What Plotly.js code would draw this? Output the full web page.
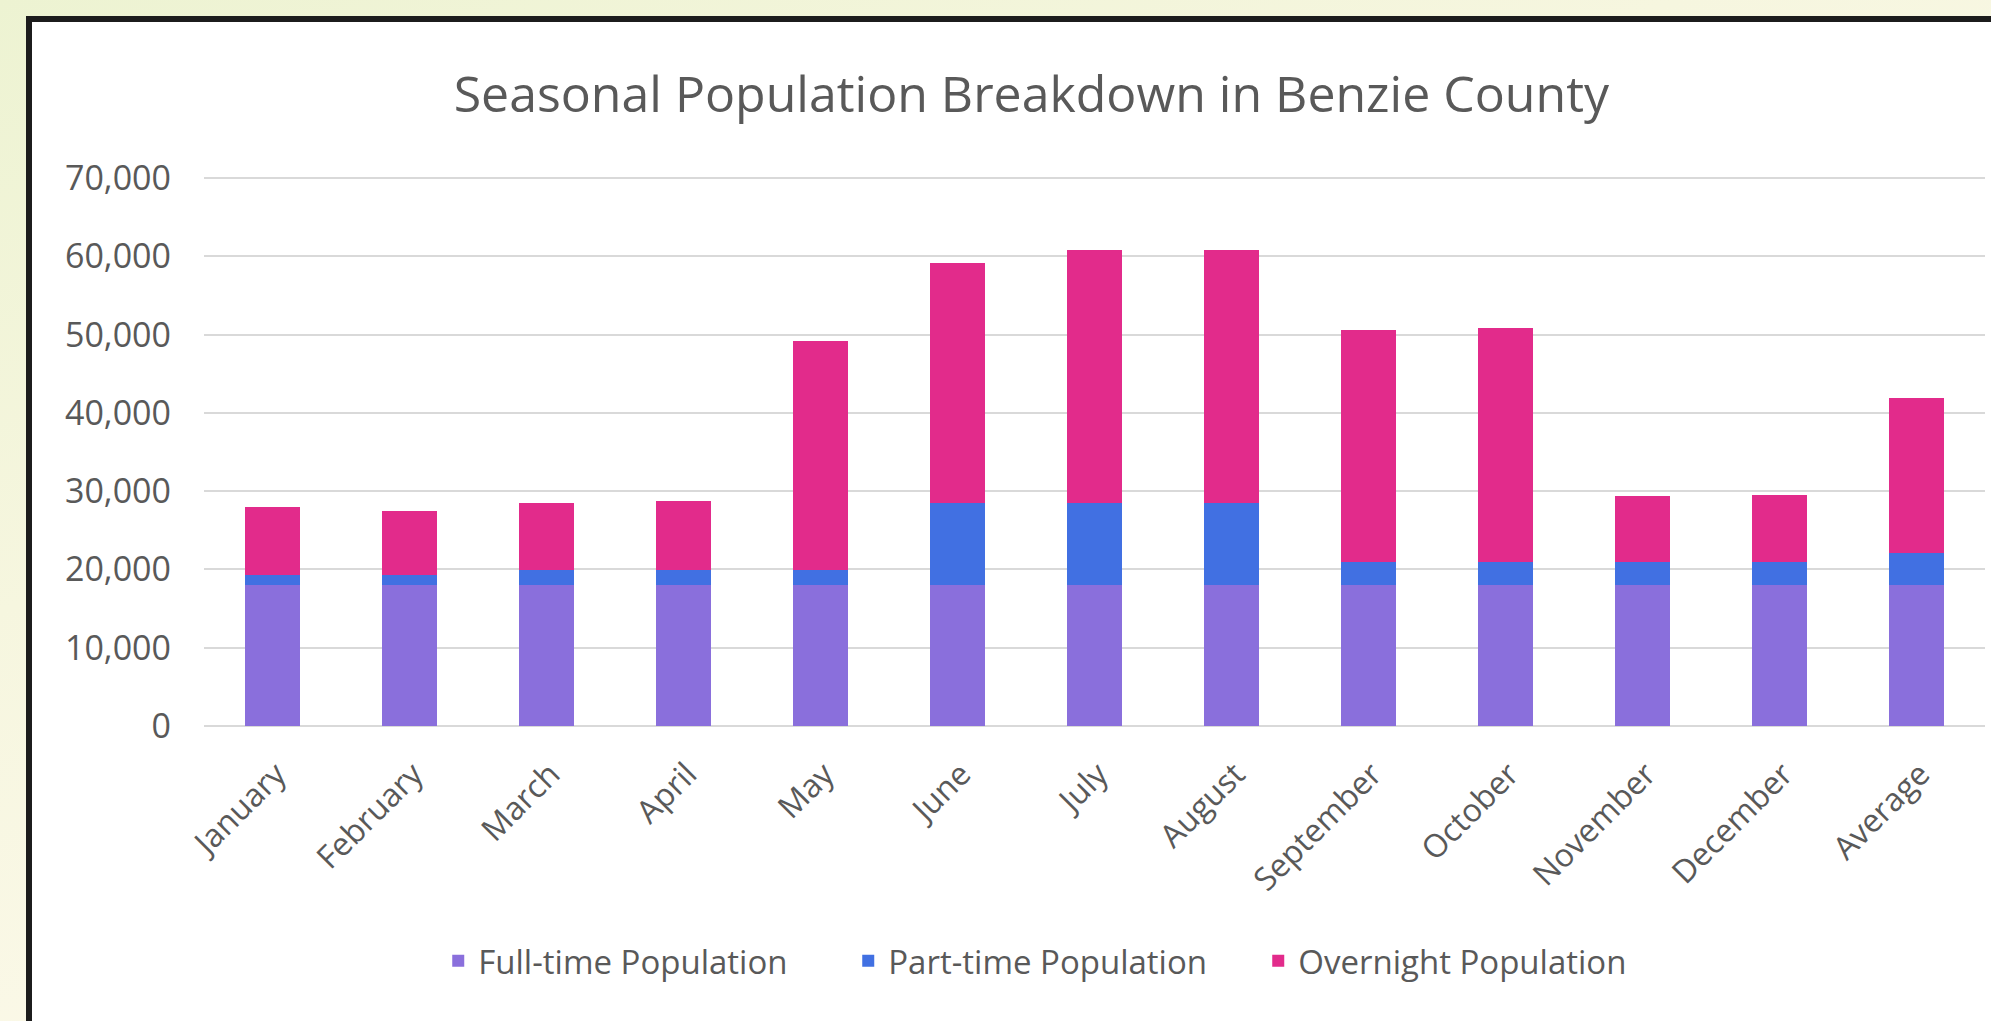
<!DOCTYPE html>
<html>
<head>
<meta charset="utf-8">
<script src="https://cdn.plot.ly/plotly-3.0.1.min.js"></script>
<style>
  html, body { margin: 0; padding: 0; width: 1991px; height: 1021px; overflow: hidden; }
  body { background: linear-gradient(160deg, #edf3d2 0%, #f6f6df 35%, #fcf9ea 70%, #fdfaee 100%); position: relative; }
  #frame { position: absolute; left: 26px; top: 16px; width: 2100px; height: 1100px; background: #ffffff; border: 6px solid #1c1c1c; box-sizing: border-box; }
  #chart { position: absolute; left: 0; top: 0; width: 1991px; height: 1021px; }
</style>
</head>
<body>
<div id="frame"></div>
<div id="chart"></div>
<script>
const categories = ["January", "February", "March", "April", "May", "June", "July", "August", "September", "October", "November", "December", "Average"];
const fullTime  = [18000, 18000, 18000, 18000, 18000, 18000, 18000, 18000, 18000, 18000, 18000, 18000, 18000];
const partTime  = [1350, 1350, 1900, 1950, 1900, 10450, 10450, 10450, 2950, 2950, 2950, 2950, 4150];
const overnight = [8650, 8150, 8600, 8850, 29300, 30650, 32400, 32400, 29600, 29850, 8400, 8600, 19700];
const seriesNames = ["Full-time Population", "Part-time Population", "Overnight Population"];
const yTicks = [0, 10000, 20000, 30000, 40000, 50000, 60000, 70000];

const colors = ["#8a6fdc", "#4170e2", "#e22b8b"];
const txt = "#595959";
const fontFam = "'Open Sans', 'DejaVu Sans', sans-serif";

const traces = [fullTime, partTime, overnight].map((vals, i) => ({
  type: "bar",
  name: seriesNames[i],
  x: categories,
  y: vals,
  marker: { color: colors[i], line: { width: 0 } },
  hoverinfo: "x+y+name"
}));

const layout = {
  width: 1991,
  height: 1021,
  barmode: "stack",
  bargap: 0.6,
  paper_bgcolor: "rgba(0,0,0,0)",
  plot_bgcolor: "rgba(0,0,0,0)",
  margin: { l: 204, r: 6, t: 175, b: 295 },
  font: { family: fontFam, color: txt, size: 30 },
  title: {
    text: "Seasonal Population Breakdown in Benzie County",
    font: { family: fontFam, size: 50, color: txt },
    xref: "container", x: 0.518, xanchor: "center",
    yref: "container", y: 0.907, yanchor: "middle"
  },
  xaxis: {
    type: "category",
    tickangle: -45,
    tickfont: { size: 32, color: txt },
    showgrid: false,
    showline: false,
    ticks: "",
    ticklabelstandoff: 22,
    ticklabelshift: 4
  },
  yaxis: {
    range: [0, 70400],
    tickvals: yTicks,
    tickformat: ",",
    tickfont: { size: 34, color: txt },
    showgrid: true,
    gridcolor: "#d9d9d9",
    gridwidth: 2,
    zeroline: true,
    zerolinecolor: "#d9d9d9",
    zerolinewidth: 2,
    ticks: "",
    ticklabelstandoff: 32
  },
  showlegend: true,
  legend: {
    orientation: "h",
    xref: "container", x: 0.529, xanchor: "center",
    yref: "container", y: 0.059, yanchor: "middle",
    font: { size: 33, color: txt },
    traceorder: "normal",
    itemwidth: 30,
    entrywidth: 365,
    entrywidthmode: "pixels",
    bgcolor: "rgba(0,0,0,0)"
  }
};

Plotly.newPlot("chart", traces, layout, { displayModeBar: false, staticPlot: true });
</script>
</body>
</html>
